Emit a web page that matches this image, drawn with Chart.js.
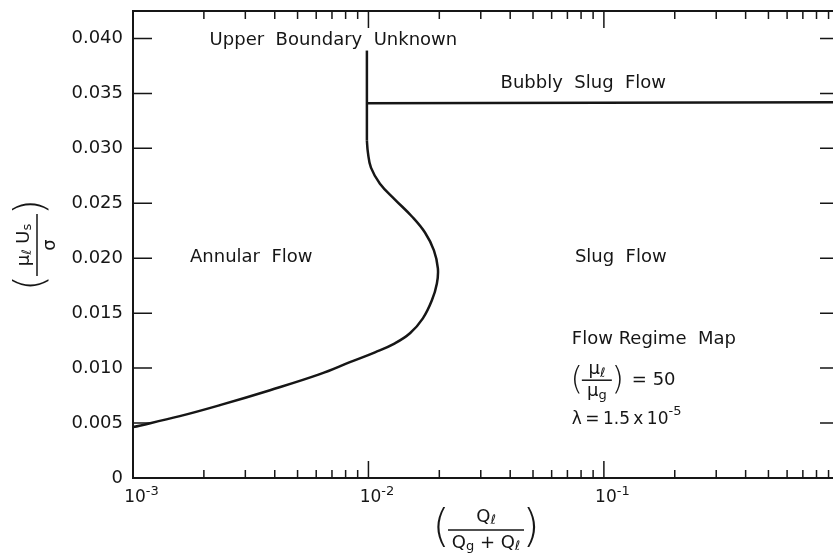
<!DOCTYPE html>
<html>
<head>
<meta charset="utf-8">
<script src="https://cdn.jsdelivr.net/npm/chart.js@4/dist/chart.umd.min.js"></script>
<style>
  html, body { margin: 0; padding: 0; background: #fff; overflow: hidden; }
  #wrap { width: 833px; height: 556px; }
</style>
</head>
<body>
<div id="wrap"><canvas id="chart" width="833" height="556"></canvas></div>
<script>
// transition curve between annular and slug flow
const boundaryQ = [0.001, 0.00158, 0.00234, 0.00382, 0.00622, 0.00834, 0.01066, 0.01296, 0.01501, 0.01703,
  0.0186, 0.01953, 0.01972, 0.01897, 0.01738, 0.0153, 0.01296, 0.01119, 0.01025, 0.00995, 0.00985];
const boundaryU = [0.00463, 0.00563, 0.00663, 0.00799, 0.00945, 0.01054, 0.01144, 0.01226, 0.01317, 0.01453,
  0.01617, 0.01771, 0.01907, 0.02071, 0.02234, 0.0238, 0.02534, 0.02679, 0.02825, 0.02961, 0.0307];
// vertical part, upper end unknown
const verticalQ = [0.00985, 0.00985];
const verticalU = [0.0307, 0.0389];
// bubbly slug / slug boundary
const bubblyQ = [0.00985, 0.94];
const bubblyU = [0.0341, 0.0342];

const xDecades = [0.001, 0.01, 0.1];
const xExponents = ['-3', '-2', '-1'];
const yTicks = [0, 0.005, 0.010, 0.015, 0.020, 0.025, 0.030, 0.035, 0.040];

const FONT = '"DejaVu Sans", sans-serif';
const INK = '#161616';

function toPoints(xs, ys) {
  return xs.map((v, i) => ({ x: v, y: ys[i] }));
}

// draw text pieces one after another; each piece {t, size, dy}
function drawRuns(ctx, parts, x, y) {
  ctx.textAlign = 'left';
  parts.forEach(p => {
    ctx.font = p.size + 'px ' + FONT;
    ctx.fillText(p.t, x, y + (p.dy || 0));
    x += ctx.measureText(p.t).width;
  });
  return x;
}
function runsWidth(ctx, parts) {
  let w = 0;
  parts.forEach(p => { ctx.font = p.size + 'px ' + FONT; w += ctx.measureText(p.t).width; });
  return w;
}
function fraction(ctx, cx, cy, num, den, half, gap) {
  drawRuns(ctx, num, cx - runsWidth(ctx, num) / 2, cy - gap);
  drawRuns(ctx, den, cx - runsWidth(ctx, den) / 2, cy + gap);
  ctx.lineWidth = 1.5;
  ctx.beginPath(); ctx.moveTo(cx - half, cy); ctx.lineTo(cx + half, cy); ctx.stroke();
}
function paren(ctx, s, x, y, size) {
  ctx.font = '200 ' + size + 'px ' + FONT;
  ctx.textAlign = 'center';
  ctx.fillText(s, x, y);
}

const regionLabels = [
  { text: 'Upper  Boundary  Unknown', x: 0.0071, y: 0.0398 },
  { text: 'Bubbly  Slug  Flow', x: 0.0818, y: 0.0359 },
  { text: 'Annular  Flow', x: 0.00318, y: 0.0201 },
  { text: 'Slug  Flow', x: 0.118, y: 0.0201 }
];

const decorations = {
  id: 'decorations',
  afterDraw(chart) {
    const { ctx, chartArea: a, scales: { x, y } } = chart;
    ctx.save();
    ctx.strokeStyle = INK;
    ctx.fillStyle = INK;
    ctx.textBaseline = 'middle';

    // frame (right side lies outside the picture)
    ctx.lineWidth = 2;
    ctx.beginPath();
    ctx.moveTo(a.right, a.top); ctx.lineTo(a.left, a.top);
    ctx.lineTo(a.left, a.bottom); ctx.lineTo(a.right, a.bottom);
    ctx.stroke();

    // inward ticks
    ctx.lineWidth = 1.5;
    xDecades.forEach(d => {
      for (let m = 1; m <= 9; m++) {
        const v = d * m;
        if (v > x.max) break;
        const px = x.getPixelForValue(v);
        const len = m === 1 ? 17 : 8;
        ctx.beginPath();
        ctx.moveTo(px, a.bottom); ctx.lineTo(px, a.bottom - len);
        ctx.moveTo(px, a.top); ctx.lineTo(px, a.top + len);
        ctx.stroke();
      }
    });
    yTicks.forEach(v => {
      if (v === 0) return;
      const py = y.getPixelForValue(v);
      ctx.beginPath();
      ctx.moveTo(a.left, py); ctx.lineTo(a.left + 19, py);
      ctx.moveTo(a.right, py); ctx.lineTo(a.right - 13, py);
      ctx.stroke();
    });

    // x tick labels 10^n
    xDecades.forEach((d, i) => {
      const px = x.getPixelForValue(d);
      ctx.font = '17px ' + FONT;
      ctx.textAlign = 'center';
      ctx.fillText('10', px + 2, a.bottom + 20);
      const w = ctx.measureText('10').width;
      ctx.font = '13px ' + FONT;
      ctx.textAlign = 'left';
      ctx.fillText(xExponents[i], px + 2 + w / 2, a.bottom + 14);
    });

    // region labels
    regionLabels.forEach(l => {
      ctx.font = '18px ' + FONT;
      ctx.textAlign = 'center';
      ctx.fillText(l.text, x.getPixelForValue(l.x), y.getPixelForValue(l.y));
    });

    // flow regime map note
    const nx = x.getPixelForValue(0.0731);
    ctx.font = '18px ' + FONT;
    ctx.textAlign = 'left';
    ctx.fillText('Flow Regime  Map', nx, y.getPixelForValue(0.0126));
    const fy = y.getPixelForValue(0.0089);
    paren(ctx, '(', nx + 5, fy, 32);
    fraction(ctx, nx + 25, fy,
      [{ t: 'μ', size: 18 }, { t: 'ℓ', size: 13, dy: 4 }],
      [{ t: 'μ', size: 18 }, { t: 'g', size: 13, dy: 4 }], 15, 11);
    paren(ctx, ')', nx + 46, fy, 32);
    ctx.font = '18px ' + FONT;
    ctx.textAlign = 'left';
    ctx.fillText('= 50', nx + 60, fy);
    const ly = y.getPixelForValue(0.00536);
    drawRuns(ctx, [{ t: 'λ\u2009=\u20091.5\u2009x\u200910', size: 17 }, { t: '-5', size: 13, dy: -7 }], nx, ly);

    // x axis title
    const tx = (a.left + a.right) / 2 + 3;
    const ty = a.bottom + 52;
    paren(ctx, '(', tx - 45, ty, 44);
    fraction(ctx, tx, ty,
      [{ t: 'Q', size: 18 }, { t: 'ℓ', size: 13, dy: 4 }],
      [{ t: 'Q', size: 18 }, { t: 'g', size: 13, dy: 4 }, { t: ' + Q', size: 18 }, { t: 'ℓ', size: 13, dy: 4 }], 38, 13);
    paren(ctx, ')', tx + 45, ty, 44);

    // y axis title, rotated
    ctx.save();
    ctx.translate(37, 245);
    ctx.rotate(-Math.PI / 2);
    paren(ctx, '(', -38, -4, 40);
    fraction(ctx, 0, 0,
      [{ t: 'μ', size: 18 }, { t: 'ℓ', size: 13, dy: 4 }, { t: ' U', size: 18 }, { t: 's', size: 13, dy: 4 }],
      [{ t: 'σ', size: 18 }], 31, 13);
    paren(ctx, ')', 38, -4, 40);
    ctx.restore();

    ctx.restore();
  }
};

const lineStyle = { borderColor: INK, borderWidth: 2.5, pointRadius: 0, showLine: true, fill: false };

new Chart(document.getElementById('chart'), {
  type: 'scatter',
  data: {
    datasets: [
      { ...lineStyle, data: toPoints(boundaryQ, boundaryU), tension: 0.4 },
      { ...lineStyle, data: toPoints(verticalQ, verticalU), tension: 0 },
      { ...lineStyle, data: toPoints(bubblyQ, bubblyU), tension: 0 }
    ]
  },
  options: {
    responsive: false,
    animation: false,
    layout: { padding: { top: 11, left: 0, right: 0, bottom: 0 } },
    plugins: { legend: { display: false }, tooltip: { enabled: false } },
    scales: {
      x: {
        type: 'logarithmic',
        min: 0.001,
        max: 0.94,
        grid: { display: false, drawTicks: false },
        border: { display: false },
        ticks: { display: false },
        afterFit: scale => { scale.height = 78; scale.paddingLeft = 0; scale.paddingRight = 0; }
      },
      y: {
        type: 'linear',
        min: 0,
        max: 0.0425,
        grid: { display: false, drawTicks: false },
        border: { display: false },
        afterBuildTicks: scale => { scale.ticks = yTicks.map(v => ({ value: v })); },
        ticks: {
          color: INK,
          padding: 10,
          font: { family: 'DejaVu Sans', size: 18 },
          callback: v => (v === 0 ? '0' : v.toFixed(3))
        },
        afterFit: scale => { scale.width = 133; scale.paddingTop = 0; scale.paddingBottom = 0; }
      }
    }
  },
  plugins: [decorations]
});
</script>
</body>
</html>
